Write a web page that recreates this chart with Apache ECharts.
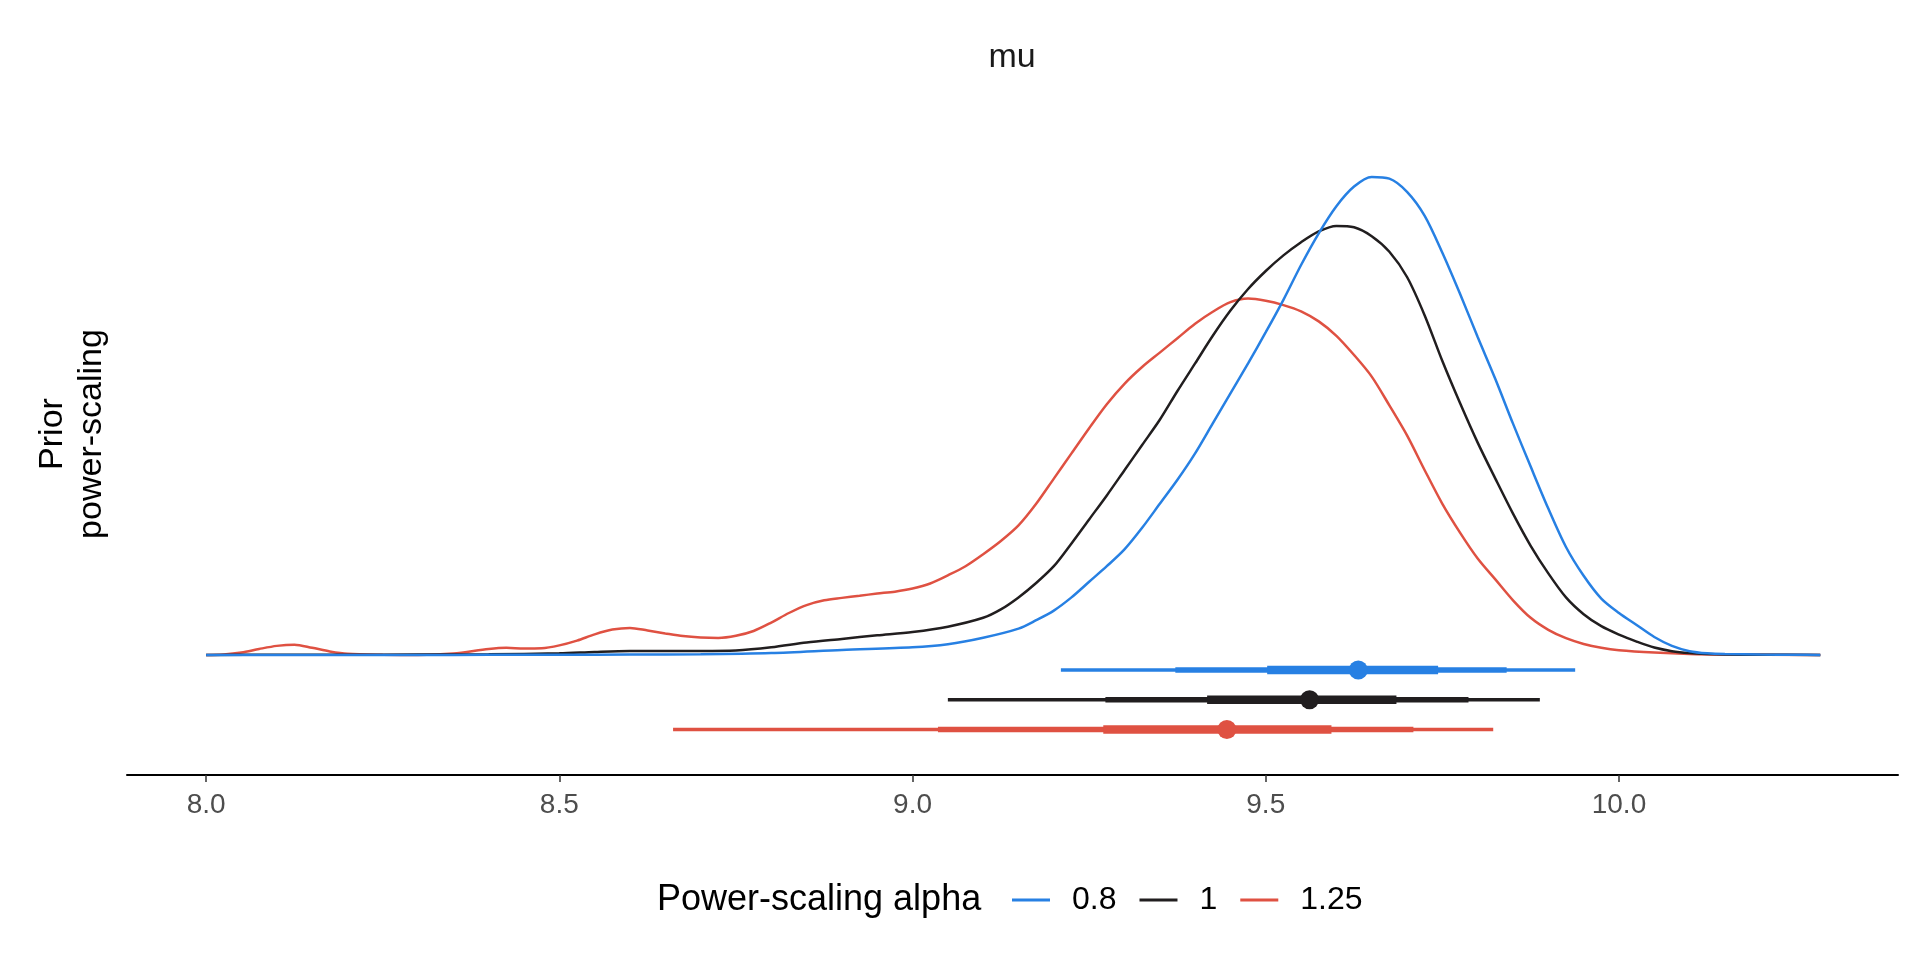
<!DOCTYPE html>
<html>
<head>
<meta charset="utf-8">
<script src="https://cdn.jsdelivr.net/npm/echarts@6/dist/echarts.min.js"></script>
<style>
  html, body { margin: 0; padding: 0; background: #fff; }
  #chart { width: 1920px; height: 960px; }
</style>
</head>
<body>
<div id="chart"></div>
<script>
// power-scaling alpha levels and their colours
const alphaNames = ['0.8', '1', '1.25'];
const alphaColors = ['#2780E3', '#211E1F', '#DF5142'];

// density estimates of mu: [mu, density]
const dens08 = [
  [8.00, 0], [8.10, 0], [8.20, 0], [8.30, 0], [8.40, 0.001], [8.50, 0.001], [8.60, 0.002],
  [8.70, 0.003], [8.80, 0.008], [8.90, 0.021], [9.00, 0.032], [9.05, 0.045], [9.10, 0.072],
  [9.15, 0.11], [9.175, 0.145], [9.20, 0.185], [9.225, 0.24], [9.25, 0.305], [9.275, 0.37],
  [9.30, 0.44], [9.325, 0.53], [9.35, 0.63], [9.375, 0.73], [9.40, 0.84], [9.425, 0.965],
  [9.45, 1.09], [9.475, 1.215], [9.50, 1.345], [9.525, 1.48], [9.55, 1.625], [9.575, 1.757],
  [9.60, 1.87], [9.625, 1.952], [9.65, 1.992], [9.675, 1.985], [9.70, 1.93], [9.725, 1.83],
  [9.75, 1.676], [9.775, 1.505], [9.80, 1.325], [9.825, 1.15], [9.85, 0.964], [9.875, 0.785],
  [9.90, 0.61], [9.925, 0.45], [9.95, 0.33], [9.975, 0.235], [10.00, 0.175], [10.025, 0.125],
  [10.05, 0.075], [10.075, 0.038], [10.10, 0.016], [10.125, 0.007], [10.15, 0.004],
  [10.20, 0.002], [10.25, 0.001], [10.285, 0]
];
const dens1 = [
  [8.00, 0], [8.10, 0.001], [8.20, 0.001], [8.30, 0.002], [8.40, 0.003], [8.50, 0.007],
  [8.55, 0.013], [8.60, 0.017], [8.65, 0.017], [8.70, 0.017], [8.75, 0.019], [8.80, 0.032],
  [8.85, 0.052], [8.90, 0.067], [8.95, 0.082], [9.00, 0.096], [9.05, 0.118], [9.10, 0.155],
  [9.125, 0.19], [9.15, 0.24], [9.175, 0.30], [9.20, 0.37], [9.225, 0.465], [9.25, 0.565],
  [9.275, 0.665], [9.30, 0.77], [9.325, 0.875], [9.35, 0.98], [9.375, 1.10], [9.40, 1.215],
  [9.425, 1.33], [9.45, 1.435], [9.475, 1.525], [9.50, 1.60], [9.525, 1.665], [9.55, 1.72],
  [9.575, 1.765], [9.60, 1.788], [9.625, 1.782], [9.65, 1.745], [9.675, 1.68], [9.70, 1.575],
  [9.725, 1.415], [9.75, 1.225], [9.775, 1.05], [9.80, 0.885], [9.825, 0.735], [9.85, 0.589],
  [9.875, 0.455], [9.90, 0.34], [9.925, 0.24], [9.95, 0.17], [9.975, 0.12], [10.00, 0.085],
  [10.025, 0.056], [10.05, 0.031], [10.075, 0.016], [10.10, 0.008], [10.125, 0.004],
  [10.15, 0.002], [10.20, 0.001], [10.285, 0]
];
const dens125 = [
  [8.00, 0], [8.025, 0.002], [8.05, 0.01], [8.075, 0.025], [8.10, 0.038], [8.125, 0.043],
  [8.15, 0.03], [8.175, 0.015], [8.20, 0.005], [8.25, 0.001], [8.30, 0], [8.35, 0.006],
  [8.40, 0.025], [8.425, 0.03], [8.45, 0.027], [8.475, 0.028], [8.50, 0.04], [8.525, 0.06],
  [8.55, 0.086], [8.575, 0.106], [8.60, 0.113], [8.625, 0.102], [8.65, 0.09], [8.675, 0.079],
  [8.70, 0.073], [8.725, 0.071], [8.75, 0.08], [8.775, 0.1], [8.80, 0.135], [8.825, 0.175],
  [8.85, 0.208], [8.875, 0.228], [8.90, 0.238], [8.925, 0.247], [8.95, 0.256], [8.975, 0.264],
  [9.00, 0.277], [9.025, 0.298], [9.05, 0.332], [9.075, 0.37], [9.10, 0.42], [9.125, 0.475],
  [9.15, 0.54], [9.175, 0.63], [9.20, 0.735], [9.225, 0.84], [9.25, 0.945], [9.275, 1.045],
  [9.30, 1.13], [9.325, 1.20], [9.35, 1.26], [9.375, 1.32], [9.40, 1.38], [9.425, 1.43],
  [9.45, 1.47], [9.475, 1.485], [9.50, 1.476], [9.525, 1.458], [9.55, 1.432], [9.575, 1.39],
  [9.60, 1.33], [9.625, 1.25], [9.65, 1.16], [9.675, 1.04], [9.70, 0.915], [9.725, 0.77],
  [9.75, 0.63], [9.775, 0.51], [9.80, 0.402], [9.825, 0.315], [9.85, 0.228], [9.875, 0.155],
  [9.90, 0.105], [9.925, 0.07], [9.95, 0.046], [9.975, 0.03], [10.00, 0.02], [10.05, 0.01],
  [10.10, 0.004], [10.15, 0.002], [10.285, 0]
];

// point + interval summaries (median, 50/80/95% intervals)
const medians = [9.631, 9.562, 9.445];
const q95 = [[9.210, 9.938], [9.050, 9.888], [8.661, 9.822]];
const q80 = [[9.372, 9.841], [9.273, 9.787], [9.036, 9.709]];
const q50 = [[9.502, 9.744], [9.417, 9.685], [9.270, 9.593]];

const xTicks = [8.0, 8.5, 9.0, 9.5, 10.0];

const densities = [dens08, dens1, dens125];
const intervalWidths = [3.3, 5.6, 8.5];
const FONT = 'Liberation Sans, Arial, sans-serif';

function renderInterval(params, api) {
  const a = api.coord([api.value(0), api.value(2)]);
  const b = api.coord([api.value(1), api.value(2)]);
  return {
    type: 'line',
    shape: { x1: a[0], y1: a[1], x2: b[0], y2: b[1] },
    style: { stroke: api.visual('color'), lineWidth: intervalWidths[api.value(3)], lineCap: 'butt' }
  };
}

const series = [];
alphaNames.forEach((name, i) => {
  series.push({
    name: name,
    type: 'line',
    data: densities[i],
    smooth: 0.3,
    symbol: 'none',
    showSymbol: false,
    silent: true,
    z: 4 - i,
    itemStyle: { color: alphaColors[i] },
    lineStyle: { color: alphaColors[i], width: 2.5 }
  });
});
alphaNames.forEach((name, i) => {
  const rowY = -0.0625 - i * 0.124;
  series.push({
    name: name,
    type: 'custom',
    renderItem: renderInterval,
    silent: true,
    z: 6,
    encode: { x: [0, 1], y: 2 },
    itemStyle: { color: alphaColors[i] },
    data: [
      [q95[i][0], q95[i][1], rowY, 0],
      [q80[i][0], q80[i][1], rowY, 1],
      [q50[i][0], q50[i][1], rowY, 2]
    ]
  });
  series.push({
    name: name,
    type: 'scatter',
    silent: true,
    z: 7,
    symbol: 'circle',
    symbolSize: 19,
    itemStyle: { color: alphaColors[i], opacity: 1 },
    data: [[medians[i], rowY]]
  });
});

const chart = echarts.init(document.getElementById('chart'));
chart.setOption({
  animation: false,
  backgroundColor: '#ffffff',
  grid: { left: 127, right: 22, top: 79, bottom: 185, outerBoundsMode: 'none' },
  xAxis: {
    type: 'value',
    min: 7.888,
    max: 10.395,
    axisLine: { show: true, onZero: false, lineStyle: { color: '#000', width: 2 } },
    axisTick: { show: true, length: 7, customValues: xTicks, lineStyle: { color: '#333', width: 1.5 } },
    axisLabel: {
      customValues: xTicks,
      margin: 16,
      fontSize: 28,
      fontFamily: FONT,
      color: '#4D4D4D',
      formatter: v => v.toFixed(1)
    },
    splitLine: { show: false }
  },
  yAxis: {
    type: 'value',
    min: -0.5,
    max: 2.4,
    show: false,
    splitLine: { show: false }
  },
  legend: {
    data: alphaNames,
    left: 1012,
    top: 884,
    padding: 0,
    icon: 'rect',
    itemWidth: 38,
    itemHeight: 3,
    itemGap: 23,
    selectedMode: false,
    formatter: '{a|{name}}',
    textStyle: {
      fontSize: 32,
      fontFamily: FONT,
      color: '#000',
      rich: { a: { fontSize: 32, fontFamily: FONT, color: '#000', padding: [0, 0, 0, 17] } }
    }
  },
  graphic: [
    {
      type: 'text', x: 1012, y: 58, silent: true,
      style: { text: 'mu', fontSize: 34, fontFamily: FONT, fill: '#1A1A1A', align: 'center', verticalAlign: 'middle' }
    },
    {
      type: 'text', x: 52.5, y: 434, rotation: Math.PI / 2, silent: true,
      style: { text: 'Prior', fontSize: 34, fontFamily: FONT, fill: '#000', align: 'center', verticalAlign: 'middle' }
    },
    {
      type: 'text', x: 91.5, y: 434, rotation: Math.PI / 2, silent: true,
      style: { text: 'power-scaling', fontSize: 34, fontFamily: FONT, fill: '#000', align: 'center', verticalAlign: 'middle' }
    },
    {
      type: 'text', x: 657, y: 900, silent: true,
      style: { text: 'Power-scaling alpha', fontSize: 36, fontFamily: FONT, fill: '#000', align: 'left', verticalAlign: 'middle' }
    }
  ],
  series: series
});
</script>
</body>
</html>
